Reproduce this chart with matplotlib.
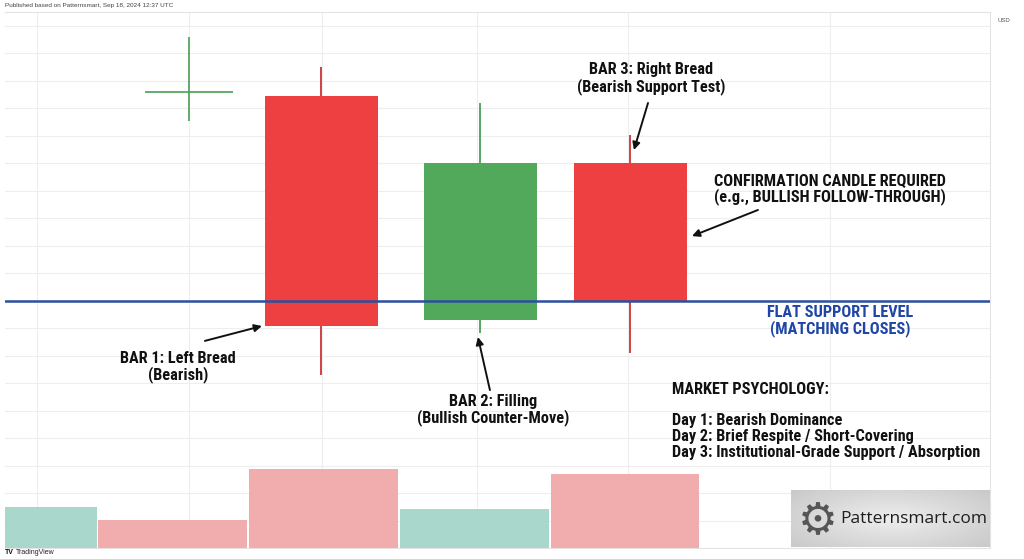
import numpy as np
import matplotlib.pyplot as plt
from matplotlib import font_manager

# fonts: a narrow bold face for the annotations, whichever is installed
names = {f.name for f in font_manager.fontManager.ttflist}
NARROW = next((n for n in ['Roboto Condensed', 'Archivo Narrow', 'Liberation Sans Narrow',
                           'Open Sans Condensed', 'Encode Sans Condensed', 'Roboto']
               if n in names), 'DejaVu Sans')
SANS = 'Liberation Sans' if 'Liberation Sans' in names else 'DejaVu Sans'
LOGO = 'Open Sans' if 'Open Sans' in names else 'DejaVu Sans'

# candles: x position (bar units), OHLC
candle_x = [2.11, 3.17, 4.17]
opens = [107.45, 99.3, 105.0]
highs = [108.5, 107.2, 106.05]
lows = [97.3, 98.85, 98.1]
closes = [99.1, 105.0, 100.0]

# small cross on the left (doji)
doji_x = 1.227
doji_open, doji_high, doji_low, doji_close = 107.6, 109.6, 106.55, 107.6

# volume
vol_x = [0.117, 1.117, 2.123, 3.13, 4.133]
vol = [4.1, 2.8, 7.9, 3.9, 7.4]
vol_up = [True, False, False, True, False]

support = 100.0
grid_x = [0.213, 1.227, 2.113, 3.147, 4.153, 5.5]
grid_y = list(range(92, 111))

RED = '#ee4040'
RED_WICK = '#c93535'
GREEN = '#53a95b'
GREEN_WICK = '#4a9e55'
BLUE = '#2b4f9e'

fig = plt.figure(figsize=(10.24, 5.59), dpi=100)
W, H = 1024, 559
left, right, top, bottom = 5, 990, 12, 548
rect = [left / W, (H - bottom) / H, (right - left) / W, (bottom - top) / H]

# price axes (grid, candles)
ax = fig.add_axes(rect)
ax.set_xlim(0, 6.567)
ax.set_ylim(91.018, 110.509)
ax.set_xticks(grid_x)
ax.set_yticks(grid_y)
ax.tick_params(length=0, labelbottom=False, labelleft=False)
ax.grid(True, color='#eeeeee', lw=0.8, zorder=0)
ax.spines['left'].set_visible(False)
for s in ['top', 'bottom', 'right']:
    ax.spines[s].set_color('#e3e3e3')
    ax.spines[s].set_linewidth(0.8)

# volume overlay at the bottom, grid faintly visible through it
axv = fig.add_axes(rect)
axv.patch.set_visible(False)
axv.bar(vol_x, vol, width=0.99,
        color=['#a3d4c7' if u else '#f0a7a7' for u in vol_up], alpha=0.93, zorder=1)
axv.set_xlim(0, 6.567)
axv.set_ylim(0, 53.6)
axv.axis('off')

# candles
for x, o, h, l, c in zip(candle_x, opens, highs, lows, closes):
    up = c > o
    ax.vlines(x, l, h, color=GREEN_WICK if up else RED_WICK, lw=1.3, zorder=2)
    ax.bar(x, c - o, bottom=o, width=0.75, color=GREEN if up else RED, zorder=3)

ax.vlines(doji_x, doji_low, doji_high, color=GREEN_WICK, lw=1.2, zorder=2)
ax.hlines(doji_close, doji_x - 0.293, doji_x + 0.293, color=GREEN_WICK, lw=1.2, zorder=2)

ax.axhline(support, color=BLUE, lw=1.8, zorder=4)

# annotations
tk = dict(family=[NARROW, 'DejaVu Sans'], fontweight='bold', fontsize=11.7,
          linespacing=1.05, color='#111111')
ap = dict(arrowstyle='-|>', color='#111111', lw=1.4, mutation_scale=11,
          shrinkA=0, shrinkB=0)

ax.text(1.153, 97.6, 'BAR 1: Left Bread\n(Bearish)', ha='center', va='center', **tk)
ax.annotate('', xy=(1.713, 99.09), xytext=(1.333, 98.55), arrowprops=ap)

ax.text(3.253, 96.04, 'BAR 2: Filling\n(Bullish Counter-Move)', ha='center', va='center', **tk)
ax.annotate('', xy=(3.153, 98.69), xytext=(3.233, 96.76), arrowprops=ap)

ax.text(4.307, 108.1, 'BAR 3: Right Bread\n(Bearish Support Test)', ha='center', va='center', **tk)
ax.annotate('', xy=(4.193, 105.49), xytext=(4.287, 107.2), arrowprops=ap)

ax.text(4.727, 104.07, 'CONFIRMATION CANDLE REQUIRED\n(e.g., BULLISH FOLLOW-THROUGH)',
        ha='left', va='center', **tk)
ax.annotate('', xy=(4.58, 102.36), xytext=(5.02, 103.31), arrowprops=ap)

tk_blue = dict(tk, color='#1f46a6')
ax.text(5.567, 99.27, 'FLAT SUPPORT LEVEL\n(MATCHING CLOSES)', ha='center', va='center', **tk_blue)

ax.text(4.447, 97.05,
        'MARKET PSYCHOLOGY:\n\nDay 1: Bearish Dominance\nDay 2: Brief Respite / Short-Covering\n'
        'Day 3: Institutional-Grade Support / Absorption',
        ha='left', va='top', **tk)

# logo box
axl = fig.add_axes([791 / W, (H - 547) / H, 199 / W, 57 / H])
gx, gy = np.meshgrid(np.linspace(-1, 1, 200), np.linspace(-1, 1, 60))
shade = 0.93 - 0.12 * np.clip(np.sqrt((gx * 0.9) ** 2 + (gy * 0.8) ** 2), 0, 1.3)
axl.imshow(shade, cmap='gray', vmin=0, vmax=1, aspect='auto', extent=[0, 1, 0, 1])
axl.set_xlim(0, 1)
axl.set_ylim(0, 1)
axl.axis('off')
axl.text(0.135, 0.47, '\u2699', ha='center', va='center', fontsize=32,
         color='#555555', family='DejaVu Sans')
axl.text(0.245, 0.49, 'Patternsmart.com', ha='left', va='center', fontsize=12.5,
         color='#1e1e1e', family=LOGO)

# header / footer texts
fig.text(5 / W, 1 - 5 / H, 'Published based on Patternsmart, Sep 18, 2024 12:37 UTC',
         ha='left', va='center', fontsize=4.6, color='#444444', family=SANS)
fig.text(997 / W, 1 - 20 / H, 'USD', ha='left', va='center', fontsize=4.3,
         color='#555555', family=SANS)
fig.text(5 / W, 1 - 553 / H, 'TV', ha='left', va='center', fontsize=5,
         fontweight='bold', color='#111111', family=SANS)
fig.text(16 / W, 1 - 553 / H, 'TradingView', ha='left', va='center', fontsize=5,
         color='#222222', family=SANS)

fig.savefig('out.png', dpi=100)
